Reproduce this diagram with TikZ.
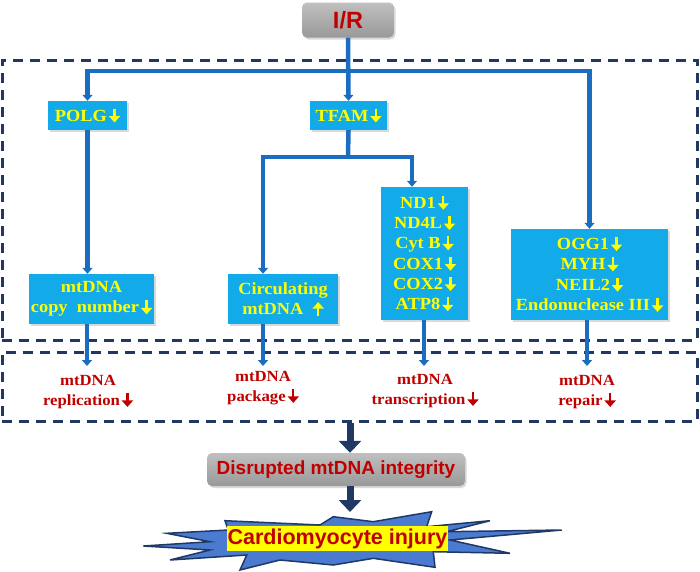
\documentclass[tikz,border=0pt]{standalone}
\usepackage{fontspec}
\setmainfont{Liberation Serif}
\newfontfamily\bxfont{Liberation Serif}[FakeStretch=1.08]
\newfontfamily\hdfont{Liberation Sans}
\usetikzlibrary{arrows.meta,shadows,calc}
\newcommand\mydn{\hspace{2pt}\tikz[baseline=0pt]{\useasboundingbox (-5.5pt,-1pt) rectangle (5.5pt,12pt);\draw[line width=2.2pt,-{Triangle[width=11pt,length=6.5pt]}] (0pt,12.5pt)--(0pt,-1.5pt);}}
\newcommand\myup{\tikz[baseline=0pt]{\useasboundingbox (-5.5pt,-1pt) rectangle (5.5pt,12pt);\draw[line width=2.2pt,-{Triangle[width=11pt,length=6.5pt]}] (0pt,-1.5pt)--(0pt,12.5pt);}}
\definecolor{boxblue}{HTML}{12AAE8}
\definecolor{connblue}{HTML}{1A6DBF}
\definecolor{navy}{HTML}{1F3864}
\definecolor{dred}{HTML}{C00000}
\definecolor{yel}{HTML}{FFFF00}
\definecolor{boomblue}{HTML}{4A7BD0}
\begin{document}
\begin{tikzpicture}[x=1pt,y=-1pt,
  bluebox/.style={fill=boxblue, text=yel, font=\bxfont\bfseries\fontsize{17}{20.3}\selectfont, align=center, inner sep=0pt, drop shadow={opacity=0.3,shadow xshift=1.5pt,shadow yshift=-2pt}},
  graybox/.style={rounded corners=5pt, top color=gray!50, bottom color=gray!80, text=dred, font=\hdfont\bfseries, inner sep=0pt, drop shadow={opacity=0.3,shadow xshift=1.5pt,shadow yshift=-2pt}},
  lbl/.style={text=dred, font=\bxfont\bfseries\fontsize{15.5}{20}\selectfont, align=center, inner sep=0pt},
  conn/.style={draw=connblue, line width=4.5pt, -{Triangle[width=10pt,length=6pt]}},
  plainconn/.style={draw=connblue, line width=4.5pt},
  dbox/.style={draw=navy, line width=3pt, dash pattern=on 10pt off 7pt, inner sep=0pt},
  fat/.style={draw=navy, line width=7pt, -{Triangle[width=22pt,length=12pt]}}
]
\useasboundingbox (0,0) rectangle (700,571);
% dashed frames
\node[dbox, minimum width=695pt, minimum height=280pt] (frame1) at (349.5,200) {};
\node[dbox, minimum width=695pt, minimum height=69pt] (frame2) at (349.5,386.5) {};
% top
\node[graybox, minimum width=92pt, minimum height=35pt, font=\hdfont\bfseries\fontsize{23.5}{26}\selectfont] (ir) at (348,20) {I/R};
% blue boxes
\node[bluebox, minimum width=79pt, minimum height=29pt] (polg) at (87.5,115.5) {POLG\mydn};
\node[bluebox, minimum width=77pt, minimum height=29pt] (tfam) at (348.5,115.5) {TFAM\mydn};
\node[bluebox, minimum width=125pt, minimum height=50pt] (copy) at (91.5,299) {mtDNA\\copy\ \ number\mydn};
\node[bluebox, minimum width=110pt, minimum height=50pt] (circ) at (283,299) {Circulating\\mtDNA\ \ \myup};
\node[bluebox, minimum width=87pt, minimum height=133pt] (nd) at (424.5,253.5) {ND1\mydn\\ND4L\mydn\\Cyt B\mydn\\COX1\mydn\\COX2\mydn\\ATP8\mydn};
\node[bluebox, minimum width=157pt, minimum height=91pt] (ogg) at (589.5,274.5) {OGG1\mydn\\MYH\mydn\\NEIL2\mydn\\Endonuclease III\mydn};
% connectors top
\coordinate (j1) at (348,71);
\coordinate (j2) at (348,157);
\draw[conn] (ir.south) -- (tfam.north);
\draw[conn] (j1) -| (polg.north);
\draw[conn] (j1) -| (ogg.north);
\draw[plainconn] (tfam.south) -- (j2);
\draw[conn] (j2) -| ($(circ.north)+(-20,0)$);
\draw[conn] (j2) -| ($(nd.north)+(-12.5,0)$);
\draw[conn] (polg.south) -- (polg.south |- copy.north);
% labels
\node[lbl] (l1) at (88,392) {mtDNA\\replication\mydn};
\node[lbl] (l2) at (263,388) {mtDNA\\package\mydn};
\node[lbl] (l3) at (425,391) {mtDNA\\transcription\mydn};
\node[lbl] (l4) at (587,392) {mtDNA\\repair\mydn};
\coordinate (a1) at (87,366);
\coordinate (a2) at (263,366);
\coordinate (a3) at (424,366);
\coordinate (a4) at (587,366);
\draw[conn] (copy.south -| a1) -- (a1);
\draw[conn] (circ.south -| a2) -- (a2);
\draw[conn] (nd.south -| a3) -- (a3);
\draw[conn] (ogg.south -| a4) -- (a4);
% bottom
\node[graybox, minimum width=258pt, minimum height=33pt, font=\hdfont\bfseries\fontsize{19}{22}\selectfont] (dis) at (336,469.5) {Disrupted mtDNA integrity};
\coordinate (boomtop) at (350,512);
\draw[fat] (frame2.south -| boomtop) -- (dis.north -| boomtop);
\draw[fat] (dis.south -| boomtop) -- (boomtop);
\draw[draw=navy, fill=boomblue, line width=1.5pt, line join=miter]
 (166.7,533.3) -- (228.3,530) -- (225,520.7) -- (320,525) -- (333.3,516.7) -- (373.3,521.7)
 -- (431.7,511.7) -- (426.7,526.7) -- (490,520.7) -- (446.7,531.7) -- (561.7,530) -- (450,540)
 -- (510,553.3) -- (433.3,551.7) -- (435,567.3) -- (373.3,558.3) -- (333.3,565) -- (280,560)
 -- (240,570) -- (246.7,555) -- (170,560) -- (210,550) -- (143.3,546) -- (210,541.7) -- cycle;
\node[fill=yel, text=dred, font=\hdfont\bfseries\fontsize{21.5}{24}\selectfont, inner sep=1pt, minimum height=25pt] (cm) at (337.5,538.5) {Cardiomyocyte injury};
\end{tikzpicture}
\end{document}
